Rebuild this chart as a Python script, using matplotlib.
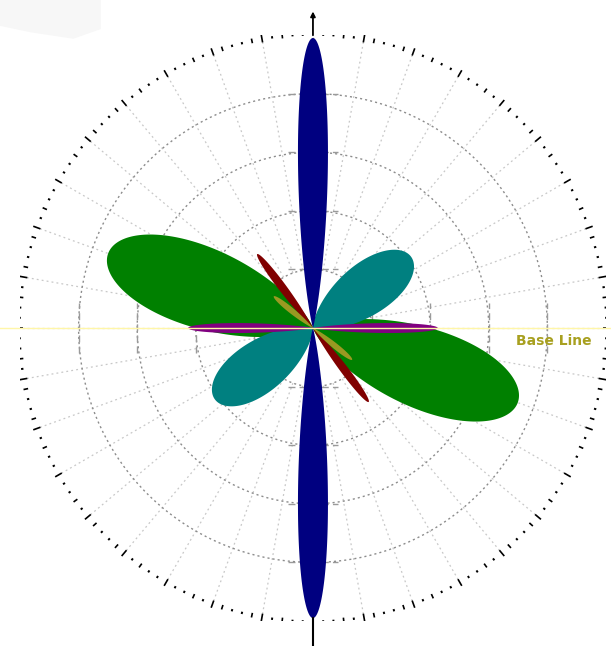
import numpy as np
import matplotlib
matplotlib.use('Agg')
import matplotlib.pyplot as plt
from matplotlib.lines import Line2D
from matplotlib.patches import Polygon

# lobe data: direction (deg), peak radius (grid units), sharpness exponent
lobe_names = ['green', 'teal', 'navy', 'maroon', 'olive', 'purple']
lobe_dir = [160, 36, 90, 127, 141, 0]
lobe_peak = [3.72, 2.07, 4.95, 1.58, 0.86, 2.13]
lobe_sharp = [10, 7.5, 137, 190, 110, 230]
lobe_colors = ['#008000', '#008080', '#000080', '#800000', '#999922', '#800080']

ring_values = [1, 2, 3, 4]
r_max = 5
spoke_step = 10

fig = plt.figure(figsize=(6.11, 6.46), dpi=100, facecolor='white')
ax = fig.add_axes([0.0327, 0.0387, 0.959, 0.907])
ax.set_xlim(-r_max, r_max)
ax.set_ylim(-r_max, r_max)
ax.set_aspect('equal')
ax.axis('off')

# faint smudge in the corner
fig.add_artist(Polygon([[0, 1], [0.165, 1], [0.165, 0.955], [0.12, 0.94],
                        [0.05, 0.95], [0, 0.96]], closed=True,
                       transform=fig.transFigure, facecolor='#f7f7f7',
                       edgecolor='none', zorder=0))

t = np.linspace(0, 2 * np.pi, 721)
# radial spokes
for a in range(0, 360, spoke_step):
    ang = np.radians(a)
    ax.plot([1 * np.cos(ang), r_max * np.cos(ang)], [1 * np.sin(ang), r_max * np.sin(ang)],
            color='#c8c8c8', lw=0.9, ls=(0, (1.5, 2.5)), zorder=1)
# dashed rings
for rv in ring_values:
    ax.plot(rv * np.cos(t), rv * np.sin(t), color='#8c8c8c', lw=1.0,
            ls=(0, (1.5, 2.2)), zorder=1)

# short cross marks on the axes at each ring
cross = 0.42
for rv in ring_values:
    for s in (1, -1):
        ax.plot([-cross, cross], [s * rv, s * rv], color='#9a9a9a', lw=1.0, ls=(0, (5, 3)), zorder=1)
        ax.plot([s * rv, s * rv], [-cross, cross], color='#9a9a9a', lw=1.0, ls=(0, (5, 3)), zorder=1)

# outer tick ring
for a in np.arange(0, 360, 2):
    ang = np.radians(a)
    if a % 10 == 0:
        r0, r1, lw = 4.95, 5.08, 1.2
    elif a % 6 == 0:
        r0, r1, lw = 4.97, 5.05, 1.2
    else:
        r0, r1, lw = 4.99, 5.03, 1.4
    if a in (90, 270):
        continue
    ax.plot([r0 * np.cos(ang), r1 * np.cos(ang)], [r0 * np.sin(ang), r1 * np.sin(ang)],
            color='black', lw=lw, solid_capstyle='butt', zorder=2)

# base line across the whole figure
fig.add_artist(Line2D([0, 1], [1 - 328 / 646, 1 - 328 / 646], transform=fig.transFigure,
                      color='#fff6a8', lw=1.0, zorder=1))
fig.text(516 / 611, 1 - 341 / 646, 'Base Line', color='#a8a020', fontsize=10,
         fontweight='bold', va='center', ha='left')

# lobes
theta = np.linspace(0, 2 * np.pi, 20000)
for name, d, pk, p, c in zip(lobe_names, lobe_dir, lobe_peak, lobe_sharp, lobe_colors):
    r = pk * np.abs(np.cos(theta - np.radians(d))) ** p
    ax.fill(r * np.cos(theta), r * np.sin(theta), color=c, lw=0, zorder=3)

# vertical axis line with arrow on top
ax.annotate('', xy=(0, 5.45), xytext=(0, 4.95),
            arrowprops=dict(arrowstyle='-|>', color='black', lw=1.3, mutation_scale=7),
            annotation_clip=False, zorder=4)
ax.plot([0, 0], [-4.95, -5.7], color='black', lw=1.5, clip_on=False, zorder=4)

fig.savefig('out.png', dpi=100, facecolor='white')
